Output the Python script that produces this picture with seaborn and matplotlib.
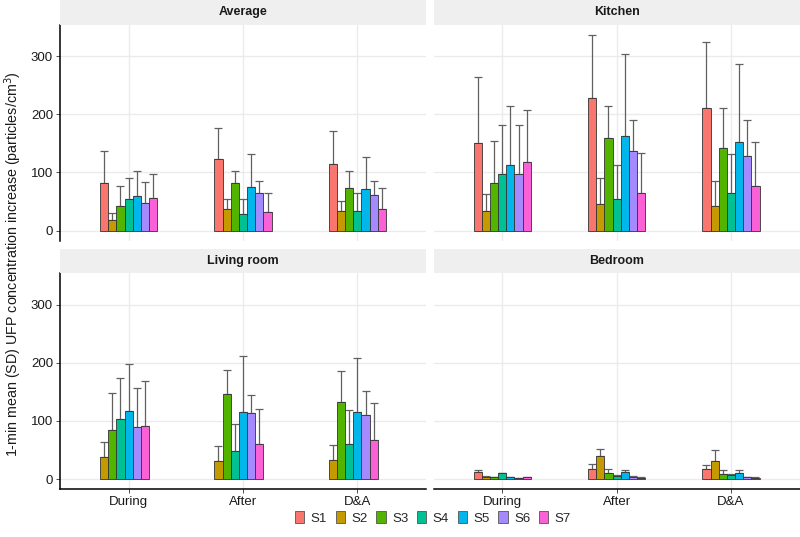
import numpy as np
import pandas as pd
import matplotlib
matplotlib.use('Agg')
import matplotlib.pyplot as plt
import matplotlib.patches as mpatches
import seaborn as sns

sns.set_theme(style='white')
plt.rcParams['font.family'] = ['Liberation Sans', 'DejaVu Sans']

# data
rooms = ['Average', 'Kitchen', 'Living room', 'Bedroom']
periods = ['During', 'After', 'D&A']
series = ['S1', 'S2', 'S3', 'S4', 'S5', 'S6', 'S7']
colors = ['#F8766D', '#C49A00', '#53B400', '#00C094', '#00B6EB', '#A58AFF', '#FB61D7']

# means, rows = period (During, After, D&A), cols = S1..S7 (nan = no data)
mean_average = [[82, 19, 43, 55, 59, 48, 57],
                [123, 38, 82, 28, 75, 65, 32],
                [114, 34, 73, 34, 71, 61, 37]]
upper_average = [[137, 31, 77, 91, 103, 84, 98],
                 [177, 54, 103, 55, 132, 85, 64],
                 [171, 51, 103, 65, 126, 86, 73]]
mean_kitchen = [[151, 33, 82, 98, 112, 98, 118],
                [228, 45, 159, 55, 163, 137, 65],
                [211, 42, 142, 65, 152, 129, 77]]
upper_kitchen = [[264, 63, 154, 182, 215, 181, 208],
                 [337, 91, 215, 113, 304, 190, 133],
                 [324, 86, 210, 131, 287, 191, 153]]
mean_living = [[np.nan, 38, 84, 104, 117, 90, 92],
               [np.nan, 31, 146, 48, 115, 114, 61],
               [np.nan, 33, 133, 61, 115, 110, 67]]
upper_living = [[np.nan, 63, 148, 173, 198, 156, 169],
                [np.nan, 57, 188, 95, 211, 144, 121],
                [np.nan, 58, 186, 118, 209, 151, 131]]
mean_bedroom = [[12, 4.5, 3, 10, 4, 1.7, 3],
                [18, 39, 11, 6, 12, 4.5, 2.5],
                [17, 32, 9, 7, 10, 4, 2.5]]
upper_bedroom = [[15, 5, 3.5, 11, 4.5, 2, 3.5],
                 [26, 51, 17, 7, 15.5, 5, 3],
                 [24, 50, 15.5, 8, 15.5, 4.5, 3]]

means = {'Average': mean_average, 'Kitchen': mean_kitchen,
         'Living room': mean_living, 'Bedroom': mean_bedroom}
uppers = {'Average': upper_average, 'Kitchen': upper_kitchen,
          'Living room': upper_living, 'Bedroom': upper_bedroom}

rows = []
for room in rooms:
    for i, p in enumerate(periods):
        for j, s in enumerate(series):
            m = means[room][i][j]
            if np.isnan(m):
                continue
            rows.append({'room': room, 'period': p, 'series': s,
                         'mean': m, 'sd': uppers[room][i][j] - m})
data = pd.DataFrame(rows)
pal = dict(zip(series, colors))

fig = plt.figure(figsize=(8, 5.37), dpi=100)

panel_pos = {'Average': (0.075, 0.5521), 'Kitchen': (0.542, 0.5521),
             'Living room': (0.075, 0.0894), 'Bedroom': (0.542, 0.0894)}
pw, ph = 0.4575, 0.402
strip_h = 0.0458

for room in rooms:
    left, bottom = panel_pos[room]
    ax = fig.add_axes([left, bottom, pw, ph])
    sub = data[data['room'] == room]
    present = [s for s in series if s in sub['series'].values]
    # ggplot preserve="single" style: missing groups leave an empty slot at the end
    order = present + [s for s in series if s not in present]
    sns.barplot(data=sub, x='period', y='mean', hue='series', order=periods,
                hue_order=order, palette=pal, width=0.5, errorbar=None,
                edgecolor='#333333', linewidth=0.6, saturation=1, ax=ax,
                legend=False, zorder=3)
    for cont, s in zip(ax.containers, present):
        sd_vals = sub[sub['series'] == s].set_index('period').reindex(periods)['sd'].values
        for bar, sd in zip(cont, sd_vals):
            xc = bar.get_x() + bar.get_width() / 2
            ax.errorbar(xc, bar.get_height(), yerr=[[0], [sd]], fmt='none',
                        ecolor='#606060', elinewidth=0.9, capsize=2.9,
                        capthick=0.9, zorder=2)
    ax.set_xlim(-0.6, 2.6)
    ax.set_ylim(-16.9, 354)
    ax.set_yticks([0, 100, 200, 300])
    ax.set_xlabel('')
    ax.set_ylabel('')
    ax.set_facecolor('white')
    ax.grid(True, color='#EBEBEB', linewidth=1.0, zorder=0)
    ax.set_axisbelow(True)
    for sp in ax.spines.values():
        sp.set_visible(False)
    is_left = room in ('Average', 'Living room')
    is_bottom = room in ('Living room', 'Bedroom')
    if is_left:
        ax.spines['left'].set_visible(True)
        ax.spines['left'].set_color('black')
        ax.spines['left'].set_linewidth(1.1)
        ax.tick_params(axis='y', length=3, width=0.6, color='#333333',
                       labelsize=9.5, labelcolor='#1a1a1a', pad=2, left=True)
    else:
        ax.tick_params(axis='y', left=False, labelleft=False)
    if is_bottom:
        ax.spines['bottom'].set_visible(True)
        ax.spines['bottom'].set_color('black')
        ax.spines['bottom'].set_linewidth(1.1)
        ax.tick_params(axis='x', length=3, width=0.6, color='#333333',
                       labelsize=9.5, labelcolor='#1a1a1a', pad=2, bottom=True)
    else:
        ax.tick_params(axis='x', bottom=False, labelbottom=False)

    sax = fig.add_axes([left, bottom + ph, pw, strip_h])
    sax.set_facecolor('#EFEFEF')
    sax.set_xticks([])
    sax.set_yticks([])
    for sp in sax.spines.values():
        sp.set_visible(False)
    sax.text(0.5, 0.5, room, ha='center', va='center', fontsize=9,
             fontweight='bold', color='#1a1a1a', transform=sax.transAxes)

fig.text(0.016, 0.508, '1-min mean (SD) UFP concentration increase (particles/cm$^3$)',
         rotation=90, ha='center', va='center', fontsize=10.3, color='#1a1a1a')

handles = [mpatches.Patch(facecolor=c, edgecolor='#555555', linewidth=0.6, label=s)
           for s, c in zip(series, colors)]
fig.legend(handles=handles, loc='center', bbox_to_anchor=(433 / 800, 1 - 518 / 537),
           ncol=7, frameon=False, fontsize=9.5, handlelength=0.7, handleheight=0.95,
           handletextpad=0.5, columnspacing=0.65)

fig.savefig('out.png', dpi=100)
